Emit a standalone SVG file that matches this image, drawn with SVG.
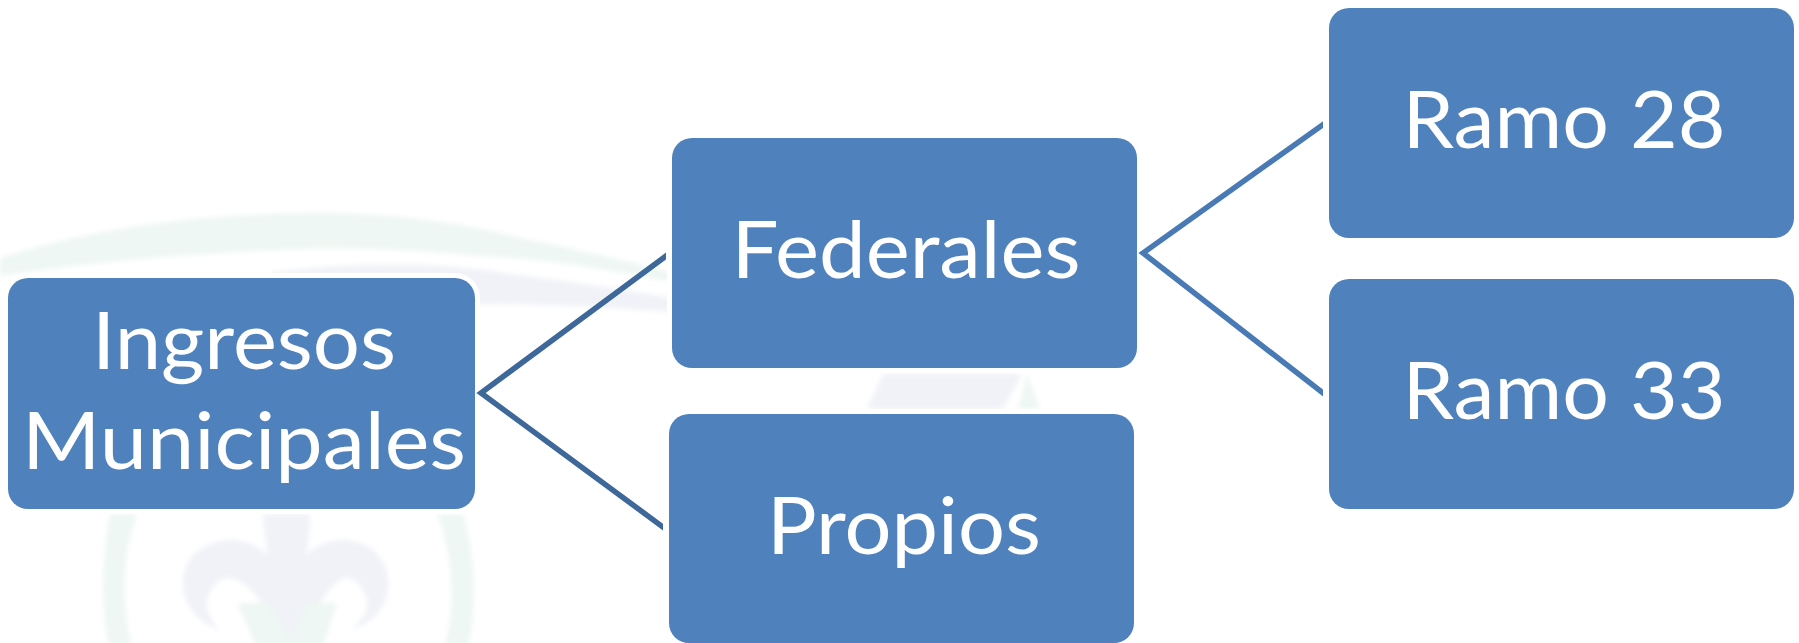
<svg xmlns="http://www.w3.org/2000/svg" width="1799" height="643" viewBox="0 0 1799 643">
<style>
.n{fill:#4f81bd;stroke:#fff;stroke-width:10;paint-order:stroke}
.t{fill:#fff;font-family:Lato,"Open Sans","Liberation Sans",sans-serif;font-size:80px;text-anchor:middle}
.c{fill:none;stroke-width:5.5}
.g{fill:#eef7f3}
.l{fill:#f0f2f7}
</style>
<defs>
<clipPath id="c1"><rect x="470" y="240" width="196" height="153"/><rect x="470" y="393" width="193" height="140"/></clipPath>
<clipPath id="c2"><rect x="1130" y="110" width="193" height="290"/></clipPath>
<filter id="soft" x="-5%" y="-5%" width="110%" height="110%"><feGaussianBlur stdDeviation="2.5"/></filter>
</defs>
<rect width="1799" height="643" fill="#fff"/>
<g id="watermark" filter="url(#soft)">
<path class="g" d="M0 258C70 236 150 220 250 215C340 209 440 216 520 238C580 250 630 262 670 272L670 282C600 268 540 258 480 256C420 250 340 246 280 250C190 254 90 262 0 276Z"/>
<path class="l" d="M270 273C350 262 440 262 510 274C570 282 630 290 670 298L670 312C620 308 560 304 480 304L270 304Z"/>
<path class="l" d="M883 374L1022 374L1003 409L867 409Z"/>
<path class="g" d="M1027 374L1040 409L1018 409Z"/>
<path class="g" d="M110 514C102 560 100 610 110 650L133 650C122 610 120 560 137 514Z"/>
<path class="g" d="M437 514C452 550 458 610 443 650L468 650C478 600 474 550 463 514Z"/>
<path class="l" d="M263 514C264 530 266 545 268 555C255 544 244 540 230 540C200 542 183 560 183 583C183 606 198 622 220 630C208 618 204 606 208 597C212 586 219 578 227 578C245 578 262 600 272 620L293 650L310 620C322 600 334 578 347 578C355 578 362 586 366 597C370 606 366 618 350 630C376 622 388 606 388 583C388 560 372 542 345 540C331 540 318 544 306 555C308 545 310 530 310 514Z"/>
<path class="g" d="M237 603L267 603L293 640L307 603L337 603L322 650L258 650Z"/>
</g>
<g id="ingresos"><rect class="n" x="8" y="278" width="467" height="231" rx="20"/>
<text class="t" x="244" y="369" textLength="304" lengthAdjust="spacingAndGlyphs">Ingresos</text>
<text class="t" x="244" y="469" textLength="444" lengthAdjust="spacingAndGlyphs">Municipales</text></g>
<g id="federales"><rect class="n" x="672" y="138" width="465" height="230" rx="20"/>
<text class="t" x="906" y="278" textLength="349" lengthAdjust="spacingAndGlyphs">Federales</text></g>
<g id="propios"><rect class="n" x="669" y="414" width="465" height="229" rx="20"/>
<text class="t" x="904" y="554" textLength="274" lengthAdjust="spacingAndGlyphs">Propios</text></g>
<g id="ramo28"><rect class="n" x="1329" y="8" width="465" height="230" rx="20"/>
<text class="t" x="1564" y="148" textLength="323" lengthAdjust="spacingAndGlyphs">Ramo 28</text></g>
<g id="ramo33"><rect class="n" x="1329" y="279" width="465" height="230" rx="20"/>
<text class="t" x="1564" y="419" textLength="323" lengthAdjust="spacingAndGlyphs">Ramo 33</text></g>
<g id="connectors">
<path class="c" stroke="#3d6899" clip-path="url(#c1)" d="M670 253L481 393L667 530"/>
<path class="c" stroke="#4a7ab5" clip-path="url(#c2)" d="M1328 121L1143 253L1328 397"/>
</g>
</svg>
